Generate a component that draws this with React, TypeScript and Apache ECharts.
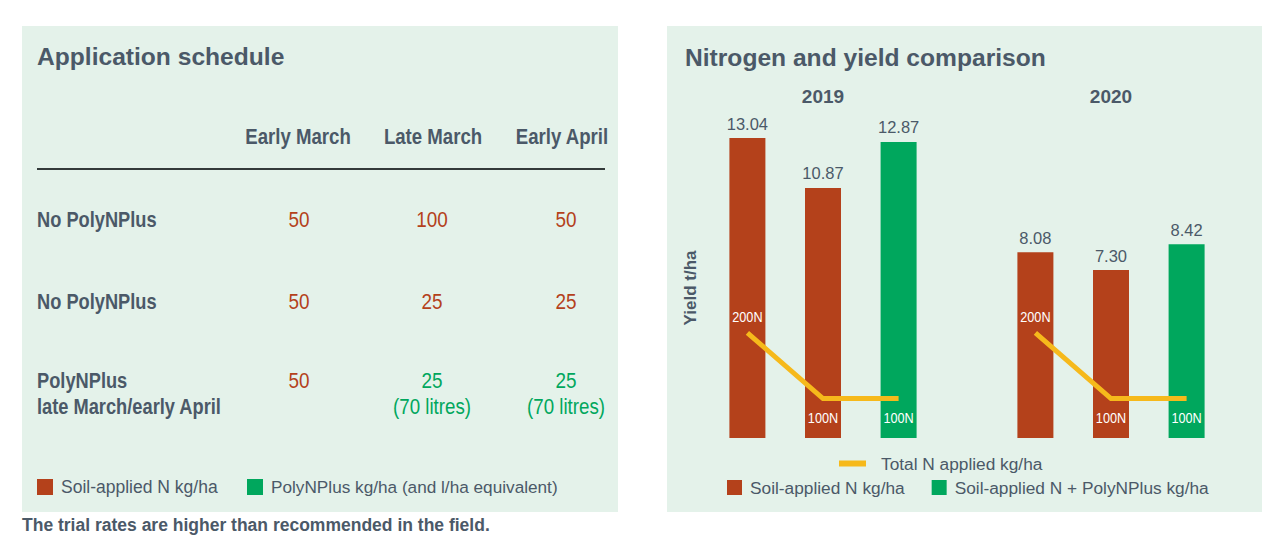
import React, { useEffect, useRef } from 'react';
import * as echarts from 'echarts';

// ---- Data: right chart ----
const years = ['2019', '2020'];
const soil200Yield = [13.04, 8.08];
const soil100Yield = [10.87, 7.3];
const polyYield = [12.87, 8.42];
const totalN2019 = [200, 100, 100];
const totalN2020 = [200, 100, 100];

// ---- Data: left table ----
const scheduleColumns = ['Early March', 'Late March', 'Early April'];
const scheduleRows = [['No PolyNPlus'], ['No PolyNPlus'], ['PolyNPlus', 'late March/early April']];
const scheduleRates = [
  [50, 100, 50],
  [50, 25, 25],
  [50, 25, 25],
];
const scheduleIsPoly = [
  [false, false, false],
  [false, false, false],
  [false, true, true],
];
const scheduleLitres = [
  [0, 0, 0],
  [0, 0, 0],
  [0, 70, 70],
];

// ---- Styles ----
const FONT = "'Liberation Sans', Arial, sans-serif";
const TEXT = '#4b5968';
const RED = '#b4411b';
const GREEN = '#00a75d';
const YELLOW = '#f6b91b';
const BG = '#e4f2ea';
const BAR_W = 36;
const BAR_GAP = 1.1;

function txt(x: number, y: number, text: string, font: string, fill: string, align = 'left', extra: any = {}) {
  return {
    type: 'text',
    x,
    y,
    z: 10,
    silent: true,
    ...extra,
    style: { text, font, fill, align, verticalAlign: 'middle', textAlign: align, textVerticalAlign: 'middle' },
  };
}

function buildGraphic() {
  const els: any[] = [];
  els.push({ type: 'rect', z: 0, silent: true, shape: { x: 22, y: 26, width: 596, height: 486 }, style: { fill: BG } });
  els.push({ type: 'rect', z: 0, silent: true, shape: { x: 667, y: 26, width: 595, height: 486 }, style: { fill: BG } });

  els.push(txt(37, 56, 'Application schedule', `bold 24.6px ${FONT}`, TEXT));
  els.push(txt(685, 57, 'Nitrogen and yield comparison', `bold 24.6px ${FONT}`, TEXT));

  const headX = [298, 433, 562];
  const valX = [299, 432, 566];
  const rowY = [219, 301, 380];
  scheduleColumns.forEach((c, i) => els.push(txt(headX[i], 136, c, `bold 23px ${FONT}`, TEXT, 'center', { scaleX: 0.81 })));
  els.push({ type: 'line', z: 10, silent: true, shape: { x1: 37, y1: 169, x2: 605, y2: 169 }, style: { stroke: '#333a3a', lineWidth: 2 } });

  scheduleRows.forEach((lines, r) => {
    lines.forEach((l, k) => els.push(txt(37, rowY[r] + k * 26, l, `bold 22px ${FONT}`, TEXT, 'left', { scaleX: 0.83 })));
    scheduleRates[r].forEach((v, c) => {
      const color = scheduleIsPoly[r][c] ? GREEN : RED;
      els.push(txt(valX[c], rowY[r], String(v), `22px ${FONT}`, color, 'center', { scaleX: 0.86 }));
      if (scheduleLitres[r][c]) {
        els.push(txt(valX[c], rowY[r] + 26, `(${scheduleLitres[r][c]} litres)`, `22px ${FONT}`, color, 'center', { scaleX: 0.85 }));
      }
    });
  });

  // left legend
  els.push({ type: 'rect', z: 10, silent: true, shape: { x: 37, y: 479, width: 16, height: 16 }, style: { fill: RED } });
  els.push(txt(61, 487, 'Soil-applied N kg/ha', `17.5px ${FONT}`, TEXT));
  els.push({ type: 'rect', z: 10, silent: true, shape: { x: 247, y: 479, width: 16, height: 16 }, style: { fill: GREEN } });
  els.push(txt(271, 487, 'PolyNPlus kg/ha (and l/ha equivalent)', `17.2px ${FONT}`, TEXT));

  els.push(txt(22, 525, 'The trial rates are higher than recommended in the field.', `bold 17.5px ${FONT}`, TEXT));

  els.push(txt(690, 288, 'Yield t/ha', `bold 17px ${FONT}`, TEXT, 'center', { rotation: Math.PI / 2 }));
  return els;
}

function renderTotalN(params: any, api: any) {
  const cat = api.value(0);
  const cx = api.coord([cat, 0])[0];
  const step = BAR_W * (1 + BAR_GAP);
  const pts = [1, 2, 3].map((d, k) => [cx + (k - 1) * step, api.coord([cat, api.value(d)])[1]]);
  const children: any[] = [
    { type: 'polyline', shape: { points: pts }, style: { stroke: YELLOW, lineWidth: 5, fill: null } },
  ];
  pts.forEach((p, k) => {
    const n = api.value(k + 1);
    const above = k === 0;
    children.push({
      type: 'text',
      x: p[0],
      y: above ? p[1] - 16 : p[1] + 19,
      scaleX: 0.82,
      style: {
        text: `${n}N`,
        fill: '#ffffff',
        font: `15.5px ${FONT}`,
        align: 'center',
        verticalAlign: 'middle',
        textAlign: 'center',
        textVerticalAlign: 'middle',
      },
    });
  });
  return { type: 'group', children };
}

const barLabel = {
  show: true,
  position: 'top',
  distance: 6,
  color: TEXT,
  fontSize: 16.5,
  fontFamily: FONT,
  formatter: (p: any) => Number(p.value).toFixed(2),
};

const option: any = {
  animation: false,
  graphic: { elements: buildGraphic() },
  grid: { left: 679, right: 25, top: 116, bottom: 115 },
  xAxis: {
    type: 'category',
    position: 'top',
    data: years,
    axisLine: { show: false },
    axisTick: { show: false },
    axisLabel: { margin: 10, color: TEXT, fontSize: 19, fontWeight: 'bold', fontFamily: FONT },
  },
  yAxis: [
    { type: 'value', min: 0, max: 14, show: false },
    { type: 'value', min: 40, max: 530, show: false },
  ],
  legend: [
    {
      data: [{ name: 'Total N applied kg/ha', icon: 'rect' }],
      left: 839,
      top: 455,
      padding: 0,
      itemWidth: 27,
      itemHeight: 6,
      selectedMode: false,
      textStyle: { color: TEXT, fontSize: 17.3, fontFamily: FONT, padding: [0, 0, 0, 10] },
    },
    {
      data: ['Soil-applied N kg/ha', 'Soil-applied N + PolyNPlus kg/ha'],
      left: 727,
      top: 479,
      padding: 0,
      icon: 'rect',
      itemWidth: 15,
      itemHeight: 15,
      itemGap: 27,
      selectedMode: false,
      textStyle: { color: TEXT, fontSize: 17.3, fontFamily: FONT, padding: [0, 0, 0, 3] },
    },
  ],
  series: [
    {
      name: 'Soil-applied N kg/ha',
      type: 'bar',
      data: soil200Yield,
      barWidth: BAR_W,
      barGap: `${BAR_GAP * 100}%`,
      itemStyle: { color: RED },
      label: barLabel,
      z: 3,
    },
    {
      name: 'Soil-applied N kg/ha',
      type: 'bar',
      data: soil100Yield,
      barWidth: BAR_W,
      barGap: `${BAR_GAP * 100}%`,
      itemStyle: { color: RED },
      label: barLabel,
      z: 3,
    },
    {
      name: 'Soil-applied N + PolyNPlus kg/ha',
      type: 'bar',
      data: polyYield,
      barWidth: BAR_W,
      barGap: `${BAR_GAP * 100}%`,
      itemStyle: { color: GREEN },
      label: barLabel,
      z: 3,
    },
    {
      name: 'Total N applied kg/ha',
      type: 'custom',
      yAxisIndex: 1,
      itemStyle: { color: YELLOW },
      encode: { x: 0, y: [1, 2, 3] },
      data: [
        [0, ...totalN2019],
        [1, ...totalN2020],
      ],
      renderItem: renderTotalN,
      z: 5,
    },
  ],
};

export default function App() {
  const ref = useRef<HTMLDivElement>(null);
  useEffect(() => {
    const chart = echarts.init(ref.current!, null, { renderer: 'svg' });
    chart.setOption(option);
    return () => chart.dispose();
  }, []);
  return <div ref={ref} style={{ position: 'absolute', left: 0, top: 0, width: 1280, height: 553 }} />;
}
